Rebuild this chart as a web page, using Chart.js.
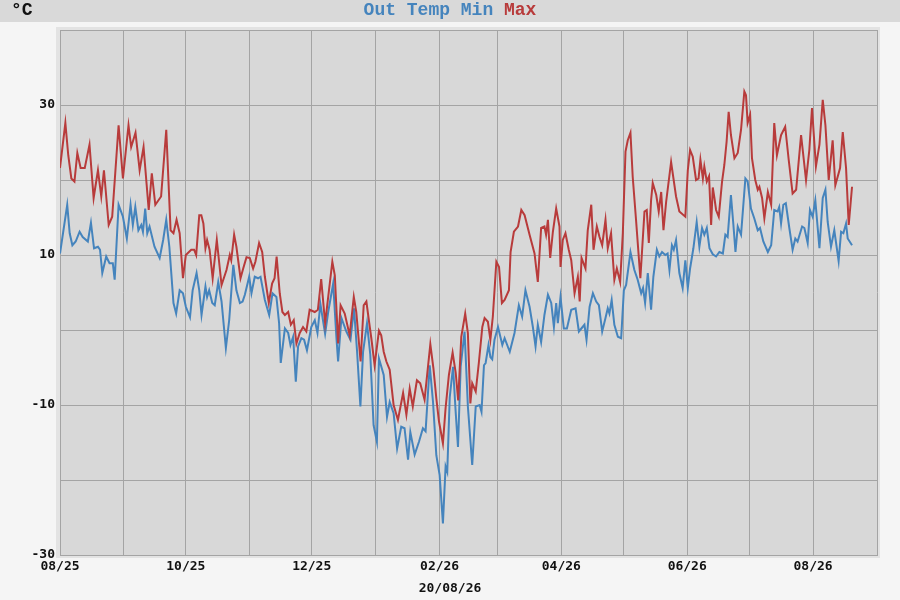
<!DOCTYPE html>
<html>
<head>
<meta charset="utf-8">
<script src="https://cdn.jsdelivr.net/npm/chart.js@4/dist/chart.umd.min.js"></script>
<style>
  html, body { margin: 0; padding: 0; background: #f5f5f5; }
  #wrap { width: 900px; height: 600px; }
</style>
</head>
<body>
<div id="wrap"><canvas id="tempChart" width="900" height="600"></canvas></div>
<script>
// days since 01/08/25, one tick per month, label every other month
const monthDays = [0, 31, 61, 92, 122, 153, 184, 212, 243, 273, 304, 334, 365, 396];
const monthLabels = ["08/25", "", "10/25", "", "12/25", "", "02/26", "", "04/26", "", "06/26", "", "08/26", ""];
const yLabels = [30, 10, -10, -30];

// daily max temperature (red)
const maxDays = [0, 2.6, 4, 5.5, 7, 8.4, 10, 12, 14.3, 16.3, 18.4, 20, 21.3, 23.6, 25.3, 28.4, 30.5, 33.2, 34.5, 36.6,
  38.6, 40.5, 43, 44.5, 46.2, 49, 51.5, 53.6, 55, 56.5, 58, 59.6, 61, 63.6, 65, 66, 67.5, 68.5, 69.5, 70.5,
  71.3, 72.5, 74, 76, 78.3, 80.7, 82.3, 83, 84.4, 85.5, 87.5, 88.8, 90.4, 92, 93.6, 94.7, 96.5, 98, 99.3, 101.2,
  102.8, 104, 105, 106.5, 107.8, 109, 110.6, 111.9, 113.3, 114.6, 116.2, 117.8, 119.4, 121, 123.5, 125, 126.6, 128.5, 132, 133.2,
  134.8, 136, 138, 140.4, 142.4, 143.6, 145.7, 147.2, 148.5, 149.8, 150.9, 152.5, 154.6, 155.7, 156.9, 158.2, 159.8, 161.7, 163.8, 166.3,
  167.9, 169.5, 171, 173, 174.6, 176.7, 179.5, 181, 182.4, 183.7, 185.6, 186.9, 188.5, 190.3, 191.8, 193, 194.5, 196.4, 197.7, 198.9,
  199.8, 201.5, 203, 204.7, 205.8, 207.4, 208.6, 209.8, 211.5, 212.8, 214.2, 215.5, 217.6, 218.4, 220, 222, 223.6, 225.2, 227.6, 230,
  231.6, 233.2, 234.8, 235.6, 236.5, 237.6, 238.9, 240.5, 242.1, 242.6, 243.7, 245, 246.6, 247.8, 249.4, 251, 251.9, 252.8, 254.7, 255.8,
  257.5, 258.6, 260.2, 261.5, 262.8, 264.4, 265.5, 267.1, 268.7, 269.9, 271.5, 272.8, 274.1, 275.2, 276.5, 277.6, 279.2, 281.3, 283.3, 284.4,
  285.4, 286.5, 287.3, 289, 290.2, 291.4, 292.5, 293.8, 296.2, 298.6, 300.2, 303.1, 304.3, 305.4, 306.7, 308.3, 309.5, 310.4, 311.6, 312.3,
  313.5, 314.6, 315.6, 316.4, 317.2, 318, 319.3, 320.9, 322, 323.1, 324.1, 325.2, 326.9, 328.5, 330.1, 331.7, 332.5, 333.3, 334.5, 335.4,
  337, 338.2, 339, 340.3, 341.4, 343.1, 344.7, 346.2, 347.5, 349.5, 351.5, 353.2, 355.1, 356.8, 359.2, 361.6, 363.2, 364.5, 366.4, 368.1,
  369.7, 371, 372.6, 374.5, 375.8, 378.1, 379.4, 381, 382.3, 383.9];
const maxTemps = [21.6, 27.6, 23.3, 20.2, 19.8, 23.6, 21.6, 21.6, 24.7, 17.6, 21.3, 17.8, 21.3, 14.0, 15.1, 27.3, 20.2, 27.3, 24.4, 26.3,
  21.3, 24.4, 16.0, 20.9, 16.7, 17.8, 26.7, 13.3, 12.9, 14.7, 12.9, 6.9, 10.0, 10.7, 10.7, 10.0, 15.3, 15.3, 14.2, 10.9,
  12.0, 10.7, 6.9, 12.0, 6.0, 8.0, 10.0, 9.3, 12.7, 11.1, 6.9, 8.2, 9.7, 9.6, 8.2, 9.1, 11.6, 10.4, 7.1, 3.6,
  6.2, 6.9, 9.8, 4.9, 2.4, 2.0, 2.4, 0.7, 1.3, -1.8, -0.4, 0.4, -0.2, 2.7, 2.4, 2.7, 6.8, 0.9, 9.1, 7.3,
  -1.8, 3.3, 2.2, -0.7, 4.4, 2.4, -4.2, 3.3, 3.8, 1.1, -1.1, -4.7, -0.1, -0.7, -2.9, -4.2, -5.3, -10.0, -12.0, -8.4,
  -11.3, -7.8, -10.2, -6.7, -7.1, -9.3, -1.9, -5.1, -9.1, -12.2, -15.1, -10.4, -6.0, -3.0, -5.7, -9.4, -0.9, 2.2, -0.4, -9.8,
  -7.1, -8.2, -4.4, 0.4, 1.6, 1.1, -1.3, 1.8, 9.1, 8.4, 3.6, 4.0, 5.3, 10.4, 13.1, 13.8, 16.0, 15.3, 12.7, 10.2,
  6.4, 13.6, 13.8, 12.7, 14.7, 9.6, 13.1, 16.2, 13.8, 8.4, 12.0, 12.9, 10.7, 9.3, 4.9, 7.1, 3.8, 9.6, 8.2, 13.3,
  16.7, 10.7, 13.8, 12.4, 11.3, 14.7, 10.9, 12.9, 6.7, 8.2, 6.4, 12.9, 23.8, 25.3, 26.3, 20.4, 14.7, 6.9, 15.8, 16.0,
  11.6, 17.3, 19.6, 18.0, 15.8, 18.4, 13.3, 17.1, 22.4, 17.8, 15.8, 15.1, 21.3, 24.0, 23.1, 20.0, 20.2, 22.7, 20.2, 21.8,
  19.8, 20.5, 14.0, 19.0, 17.6, 16.0, 15.1, 19.8, 22.0, 25.1, 29.1, 26.0, 22.9, 23.6, 26.7, 31.8, 31.3, 27.6, 28.7, 22.9,
  20.0, 18.7, 19.1, 17.6, 14.9, 18.4, 16.7, 27.6, 23.3, 26.0, 27.1, 22.7, 18.2, 18.7, 26.0, 20.0, 24.0, 29.6, 21.8, 24.7,
  30.7, 27.3, 20.0, 25.3, 19.3, 21.6, 26.4, 21.6, 14.0, 19.1];

// daily min temperature (blue)
const minDays = [0, 3.5, 4.7, 6, 7.6, 9.5, 11, 13.5, 15, 16.5, 18.4, 19.4, 20.5, 22.4, 24, 25.6, 26.5, 28.4, 30.5, 32.4,
  34.2, 35.3, 36.5, 38, 39.4, 40.2, 41.3, 42.3, 43.4, 45.8, 48.3, 50, 51.5, 53, 55, 56.3, 58, 59.6, 61, 63,
  64.3, 66.2, 67.5, 68.6, 70.5, 71.3, 72.3, 73.8, 75, 76.7, 78.3, 80.4, 82, 84, 85.5, 87.2, 88.5, 89.6, 91.7, 92.8,
  94.4, 96, 97.2, 99.3, 101.4, 103, 104.9, 106.2, 107, 109, 110.6, 111.7, 113, 114.3, 115.4, 117, 118.3, 119.7, 121.8, 123.5,
  124.8, 126.2, 128.5, 130, 132.4, 134, 134.8, 136.4, 138.8, 140.8, 142.5, 144, 145.6, 146.9, 148.8, 150.4, 152, 153.6, 154.6, 156.9,
  158.5, 159.8, 161.7, 163.4, 165.4, 167, 168.7, 169.8, 171.9, 174, 175.9, 177.2, 179.2, 180.8, 182.4, 184, 185.6, 186.9, 187.7, 188.9,
  190.5, 191.8, 192.9, 194.2, 196.1, 197.7, 199.8, 201.5, 203.4, 204.3, 205.5, 206.3, 207.7, 208.6, 209.5, 210.6, 212.3, 214.4, 215.5, 218,
  220.3, 222.4, 224, 225.6, 227.6, 229.2, 230.5, 231.6, 233.2, 234.8, 236.5, 238.1, 239.4, 240.5, 241.3, 242.6, 244.2, 245.7, 247.8, 249.9,
  251.5, 253, 254.2, 255.2, 256.7, 258.3, 259.9, 261.2, 262.8, 264.4, 265.5, 266.3, 267.4, 268.7, 270.4, 272, 273.3, 274.4, 276.5, 278.4,
  280, 281.7, 282.6, 283.6, 284.9, 286.5, 287.6, 289.3, 290.5, 291.8, 293.4, 294.5, 295.4, 296.6, 297.5, 298.6, 300.2, 301.8, 303.1, 304.3,
  305.4, 307, 308.6, 309.9, 311.2, 312.3, 313.5, 314.8, 316.4, 318, 319.6, 321.3, 322.5, 323.6, 325.2, 326.4, 327.4, 328.5, 330.1, 332.2,
  333.3, 334.9, 336.5, 338.2, 339.3, 340.9, 343.1, 344.7, 346.2, 347.8, 348.6, 349.5, 350.6, 351.8, 353.5, 355.1, 356.4, 357.5, 359.7, 360.8,
  362.4, 363.5, 364.8, 366.1, 368.1, 369.7, 371, 372.1, 373.7, 375.3, 377.4, 378.6, 379.7, 381, 381.8, 383.9];
const minTemps = [10.2, 16.7, 12.9, 11.3, 11.8, 13.1, 12.4, 11.8, 14.3, 10.9, 11.1, 10.7, 7.6, 9.8, 8.9, 8.9, 6.7, 16.7, 15.1, 12.2,
  16.7, 14.0, 16.4, 13.3, 14.0, 13.1, 16.2, 12.9, 13.8, 11.1, 9.6, 12.0, 14.7, 11.1, 3.6, 2.2, 5.3, 4.9, 3.1, 1.7,
  5.3, 7.6, 5.3, 2.0, 5.8, 4.4, 5.3, 3.6, 3.3, 6.4, 3.8, -2.4, 1.3, 8.7, 5.3, 3.6, 3.8, 4.7, 7.1, 4.9,
  7.1, 6.9, 7.1, 4.0, 2.0, 4.9, 4.4, 0.9, -4.4, 0.2, -0.4, -2.0, -0.9, -6.9, -2.2, -1.1, -1.3, -2.7, 0.4, 1.3,
  -0.4, 3.5, -0.5, 2.4, 6.2, -1.1, -4.2, 1.6, -0.2, -1.3, 2.9, -2.9, -10.2, -2.9, 0.9, -3.3, -12.7, -14.9, -3.8, -6.0,
  -11.6, -9.6, -11.1, -15.8, -12.9, -13.1, -17.3, -13.6, -16.6, -14.9, -13.1, -13.5, -4.7, -9.6, -16.7, -19.3, -25.8, -18.2, -18.9, -9.0,
  -4.9, -11.0, -15.6, -4.9, -0.2, -10.2, -18.0, -10.2, -10.0, -10.9, -4.7, -4.4, -2.0, -3.6, -3.9, -1.3, 0.4, -2.0, -1.1, -2.9,
  -0.4, 3.3, 1.8, 5.3, 3.1, 0.4, -2.2, 0.7, -1.6, 2.0, 4.7, 3.6, 0.4, 3.6, 0.9, 4.4, 0.2, 0.2, 2.7, 2.9,
  -0.2, 0.3, 0.7, -1.3, 3.1, 4.9, 3.8, 3.3, -0.2, 1.6, 2.9, 2.2, 4.0, 0.7, -0.9, -1.1, 5.3, 6.0, 10.4, 8.0,
  6.7, 4.9, 5.6, 3.6, 7.6, 2.7, 7.1, 10.7, 9.8, 10.4, 10.0, 10.2, 8.0, 11.3, 10.7, 12.0, 7.6, 5.6, 9.3, 5.6,
  8.2, 10.9, 14.4, 11.1, 13.6, 12.7, 13.6, 10.9, 10.1, 9.8, 10.4, 10.2, 12.7, 12.4, 18.0, 14.0, 10.4, 13.8, 12.7, 20.2,
  19.8, 16.2, 14.9, 13.3, 13.6, 11.8, 10.4, 11.3, 16.0, 15.8, 16.4, 14.2, 16.7, 16.9, 13.6, 10.7, 12.2, 11.8, 13.8, 13.6,
  11.6, 16.0, 15.1, 17.3, 10.9, 17.6, 18.7, 14.4, 11.1, 13.3, 9.2, 13.1, 12.9, 14.2, 12.2, 11.3];

const minColor = "#4584bd";
const maxColor = "#b83b3b";
const tickFont = { family: "'DejaVu Sans Mono', monospace", size: 13, weight: "bold" };

// page background, header strip, plot frame and the three texts
const framePlugin = {
  id: "frame",
  beforeDraw(chart) {
    const ctx = chart.ctx;
    const a = chart.chartArea;
    ctx.save();
    ctx.fillStyle = "#f5f5f5";
    ctx.fillRect(0, 0, chart.width, chart.height);
    ctx.fillStyle = "#d9d9d9";
    ctx.fillRect(0, 0, chart.width, 22);
    ctx.fillStyle = "#e3e3e3";
    ctx.fillRect(a.left - 4, a.top - 3, a.width + 7, a.height + 6);
    ctx.fillStyle = "#d8d8d8";
    ctx.fillRect(a.left, a.top, a.width, a.height);
    ctx.restore();
  },
  afterDraw(chart) {
    const ctx = chart.ctx;
    ctx.save();
    ctx.textBaseline = "middle";
    ctx.font = "bold 18px 'Liberation Mono', monospace";
    ctx.fillStyle = "#111";
    ctx.textAlign = "left";
    ctx.fillText("°C", 11, 10);
    const t1 = "Out Temp Min ";
    const t2 = "Max";
    const w1 = ctx.measureText(t1).width;
    const w2 = ctx.measureText(t2).width;
    const x0 = 450 - (w1 + w2) / 2;
    ctx.fillStyle = minColor;
    ctx.fillText(t1, x0, 10);
    ctx.fillStyle = maxColor;
    ctx.fillText(t2, x0 + w1, 10);
    ctx.font = "bold 13px 'DejaVu Sans Mono', monospace";
    ctx.fillStyle = "#111";
    ctx.textAlign = "center";
    ctx.fillText("20/08/26", 450, 589);
    ctx.restore();
  }
};

document.addEventListener("DOMContentLoaded", function () {
  const canvas = document.getElementById("tempChart");
  new Chart(canvas, {
    type: "line",
    data: {
      datasets: [
        {
          label: "Min",
          data: minDays.map((d, i) => ({ x: d, y: minTemps[i] })),
          borderColor: minColor,
          borderWidth: 2,
          pointRadius: 0,
          tension: 0,
          order: 2,
        },
        {
          label: "Max",
          data: maxDays.map((d, i) => ({ x: d, y: maxTemps[i] })),
          borderColor: maxColor,
          borderWidth: 2,
          pointRadius: 0,
          tension: 0,
          order: 1,
        },
      ],
    },
    options: {
      responsive: false,
      animation: false,
      devicePixelRatio: 1,
      layout: { padding: { left: 0, top: 30, right: 23, bottom: 0 } },
      plugins: {
        legend: { display: false },
        tooltip: { enabled: false },
      },
      scales: {
        x: {
          type: "linear",
          min: 0,
          max: 396,
          afterBuildTicks(scale) {
            scale.ticks = monthDays.map((v) => ({ value: v }));
          },
          afterFit(scale) {
            scale.height = 45;
          },
          ticks: {
            autoSkip: false,
            maxRotation: 0,
            padding: 4,
            color: "#111",
            font: tickFont,
            callback: (value) => monthLabels[monthDays.indexOf(value)],
          },
          grid: { color: "#a4a4a4", lineWidth: 1, drawTicks: false },
          border: { color: "#a4a4a4" },
        },
        y: {
          min: -30,
          max: 40,
          afterFit(scale) {
            scale.width = 60;
          },
          ticks: {
            stepSize: 10,
            padding: 5,
            color: "#111",
            font: tickFont,
            callback: (value) => (yLabels.includes(value) ? String(value) : ""),
          },
          grid: { color: "#a4a4a4", lineWidth: 1, drawTicks: false },
          border: { color: "#a4a4a4" },
        },
      },
    },
    plugins: [framePlugin],
  });
});
</script>
</body>
</html>
